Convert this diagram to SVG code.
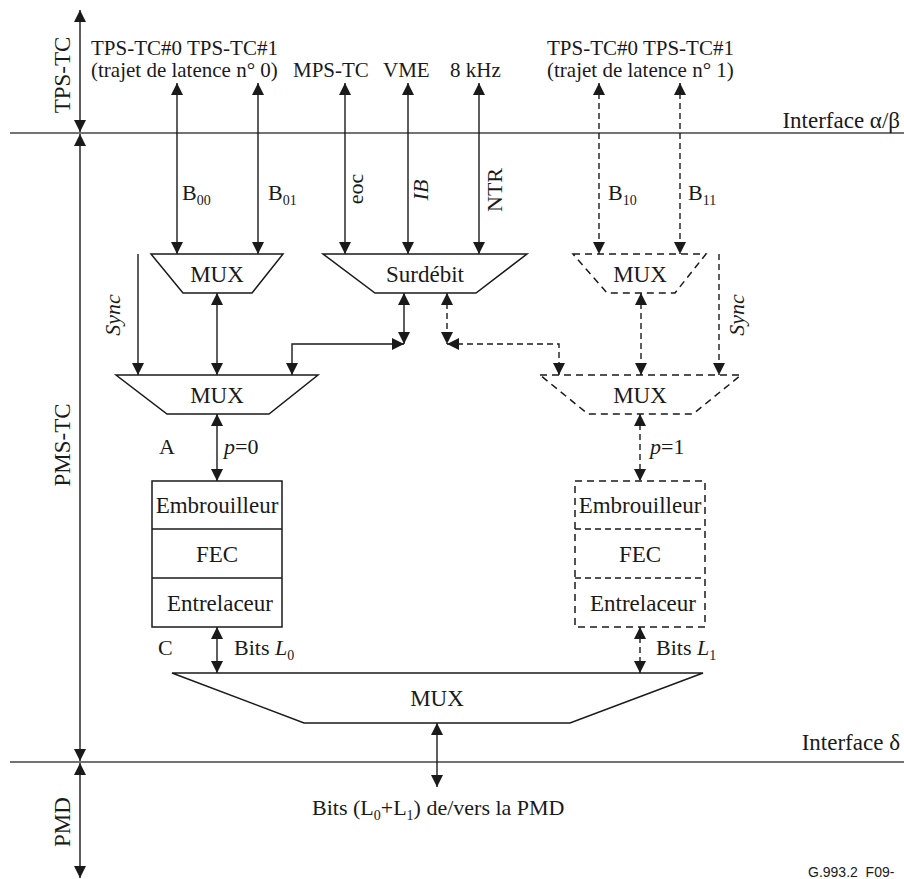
<svg xmlns="http://www.w3.org/2000/svg" width="904" height="879" viewBox="0 0 904 879">
<style>
text{font-family:"Liberation Serif","Times New Roman",serif;fill:#1a1a1a}
.t21{font-size:21px}
.t23{font-size:23px}
.t22{font-size:22px}
.sub{font-size:14px}
.ln{fill:none;stroke:#1a1a1a;stroke-width:1.4}
.dl{fill:none;stroke:#1a1a1a;stroke-width:1.4;stroke-dasharray:6 4}
.ifc{fill:none;stroke:#444;stroke-width:1.6}
.shape{fill:#fff;stroke:#1a1a1a;stroke-width:1.5}
.dshape{fill:#fff;stroke:#1a1a1a;stroke-width:1.5;stroke-dasharray:7 5}
.dbl{marker-start:url(#ah);marker-end:url(#ah)}
.one{marker-end:url(#ah)}
</style>
<defs>
<marker id="ah" markerUnits="userSpaceOnUse" markerWidth="13" markerHeight="13" refX="12" refY="6" orient="auto-start-reverse" viewBox="0 0 13 12">
<path d="M0,0 L12,6 L0,12 z" fill="#1a1a1a"/>
</marker>
</defs>

<g id="interfaces">
<line class="ifc" x1="10" y1="133" x2="904" y2="133"/>
<line class="ifc" x1="10" y1="762" x2="904" y2="762"/>
<text class="t23" x="900" y="128" text-anchor="end">Interface α/β</text>
<text class="t23" x="900" y="750" text-anchor="end">Interface δ</text>
</g>

<g id="layers">
<text class="t23" transform="translate(70,75) rotate(-90)" text-anchor="middle">TPS-TC</text>
<text class="t23" transform="translate(70,445) rotate(-90)" text-anchor="middle">PMS-TC</text>
<text class="t23" transform="translate(70,822) rotate(-90)" text-anchor="middle">PMD</text>
</g>

<g id="top-labels">
<text class="t21" x="91" y="55">TPS-TC#0 TPS-TC#1</text>
<text class="t21" x="91" y="77">(trajet de latence n° 0)</text>
<text class="t21" x="293" y="77">MPS-TC</text>
<text class="t21" x="383" y="77">VME</text>
<text class="t21" x="450" y="77">8 kHz</text>
<text class="t21" x="547" y="55">TPS-TC#0 TPS-TC#1</text>
<text class="t21" x="547" y="77">(trajet de latence n° 1)</text>
</g>

<g id="connectors">
<line class="ln dbl" x1="80" y1="10" x2="80" y2="132"/>
<line class="ln dbl" x1="80" y1="134" x2="80" y2="761"/>
<line class="ln dbl" x1="80" y1="763" x2="80" y2="878"/>

<line class="ln dbl" x1="177" y1="83" x2="177" y2="254"/>
<line class="ln dbl" x1="258" y1="83" x2="258" y2="254"/>
<line class="ln dbl" x1="345" y1="83" x2="345" y2="254"/>
<line class="ln dbl" x1="408" y1="83" x2="408" y2="254"/>
<line class="ln dbl" x1="479" y1="83" x2="479" y2="254"/>
<line class="dl dbl" x1="599" y1="83" x2="599" y2="254"/>
<line class="dl dbl" x1="680" y1="83" x2="680" y2="254"/>

<line class="ln one" x1="138" y1="254" x2="138" y2="375"/>
<line class="dl one" x1="719" y1="254" x2="719" y2="375"/>

<line class="ln dbl" x1="217" y1="293" x2="217" y2="375"/>
<line class="dl dbl" x1="641" y1="293" x2="641" y2="375"/>

<line class="ln dbl" x1="404" y1="293" x2="404" y2="344"/>
<line class="dl dbl" x1="447" y1="293" x2="447" y2="344"/>
<polyline class="ln dbl" points="292,375 292,344 404,344"/>
<polyline class="dl dbl" points="447,344 559,344 559,375"/>

<line class="ln dbl" x1="217" y1="414" x2="217" y2="481"/>
<line class="dl dbl" x1="640" y1="414" x2="640" y2="481"/>
<line class="ln dbl" x1="217" y1="627" x2="217" y2="673"/>
<line class="dl dbl" x1="640" y1="627" x2="640" y2="673"/>
<line class="ln dbl" x1="437" y1="723" x2="437" y2="787"/>
</g>

<g id="connector-labels">
<text class="t22" x="182" y="200">B<tspan class="sub" dy="5">00</tspan></text>
<text class="t22" x="268" y="200">B<tspan class="sub" dy="5">01</tspan></text>
<text class="t22" x="608" y="200">B<tspan class="sub" dy="5">10</tspan></text>
<text class="t22" x="688" y="200">B<tspan class="sub" dy="5">11</tspan></text>
<text class="t22" transform="translate(363,189) rotate(-90)" text-anchor="middle">eoc</text>
<text class="t22" transform="translate(428,190) rotate(-90)" text-anchor="middle" font-style="italic">IB</text>
<text class="t22" transform="translate(502,190) rotate(-90)" text-anchor="middle">NTR</text>
<text class="t22" transform="translate(120,315) rotate(-90)" text-anchor="middle" font-style="italic">Sync</text>
<text class="t22" transform="translate(744,315) rotate(-90)" text-anchor="middle" font-style="italic">Sync</text>
<text class="t22" x="159" y="454">A</text>
<text class="t22" x="224" y="454"><tspan font-style="italic">p</tspan>=0</text>
<text class="t22" x="650" y="454"><tspan font-style="italic">p</tspan>=1</text>
<text class="t22" x="158" y="655">C</text>
<text class="t22" x="234" y="655">Bits <tspan font-style="italic">L</tspan><tspan class="sub" dy="5">0</tspan></text>
<text class="t22" x="656" y="655">Bits <tspan font-style="italic">L</tspan><tspan class="sub" dy="5">1</tspan></text>
<text class="t22" x="312" y="815">Bits (L<tspan class="sub" dy="5">0</tspan><tspan dy="-5">+L</tspan><tspan class="sub" dy="5">1</tspan><tspan dy="-5">) de/vers la PMD</tspan></text>
</g>

<g id="mux00">
<polygon class="shape" points="151,254 283,254 252,293 183,293"/>
<text class="t23" x="217" y="282" text-anchor="middle">MUX</text>
</g>
<g id="surdebit">
<polygon class="shape" points="323,254 527,254 476,293 375,293"/>
<text class="t23" x="425" y="282" text-anchor="middle">Surdébit</text>
</g>
<g id="mux10">
<polygon class="dshape" points="573,254 706,254 675,293 607,293"/>
<text class="t23" x="640" y="282" text-anchor="middle">MUX</text>
</g>
<g id="mux-p0">
<polygon class="shape" points="116,375 318,375 269,414 167,414"/>
<text class="t23" x="217" y="403" text-anchor="middle">MUX</text>
</g>
<g id="mux-p1">
<polygon class="dshape" points="540,375 741,375 693,414 588,414"/>
<text class="t23" x="640" y="403" text-anchor="middle">MUX</text>
</g>

<g id="chain-p0">
<rect class="shape" x="152" y="481" width="130" height="146"/>
<line class="ln" x1="152" y1="529" x2="282" y2="529"/>
<line class="ln" x1="152" y1="578" x2="282" y2="578"/>
<text class="t23" x="217" y="513" text-anchor="middle">Embrouilleur</text>
<text class="t23" x="217" y="562" text-anchor="middle">FEC</text>
<text class="t23" x="220" y="611" text-anchor="middle">Entrelaceur</text>
</g>
<g id="chain-p1">
<rect class="dshape" x="575" y="481" width="130" height="146"/>
<line class="dl" x1="575" y1="529" x2="705" y2="529"/>
<line class="dl" x1="575" y1="578" x2="705" y2="578"/>
<text class="t23" x="640" y="513" text-anchor="middle">Embrouilleur</text>
<text class="t23" x="640" y="562" text-anchor="middle">FEC</text>
<text class="t23" x="643" y="611" text-anchor="middle">Entrelaceur</text>
</g>

<g id="mux-main">
<polygon class="shape" points="172,673 703,673 570,723 304,723"/>
<text class="t23" x="437" y="706" text-anchor="middle">MUX</text>
</g>

<text x="808" y="877" style="font-family:'Liberation Sans',Arial,sans-serif;font-size:14px">G.993.2_F09-</text>
</svg>
